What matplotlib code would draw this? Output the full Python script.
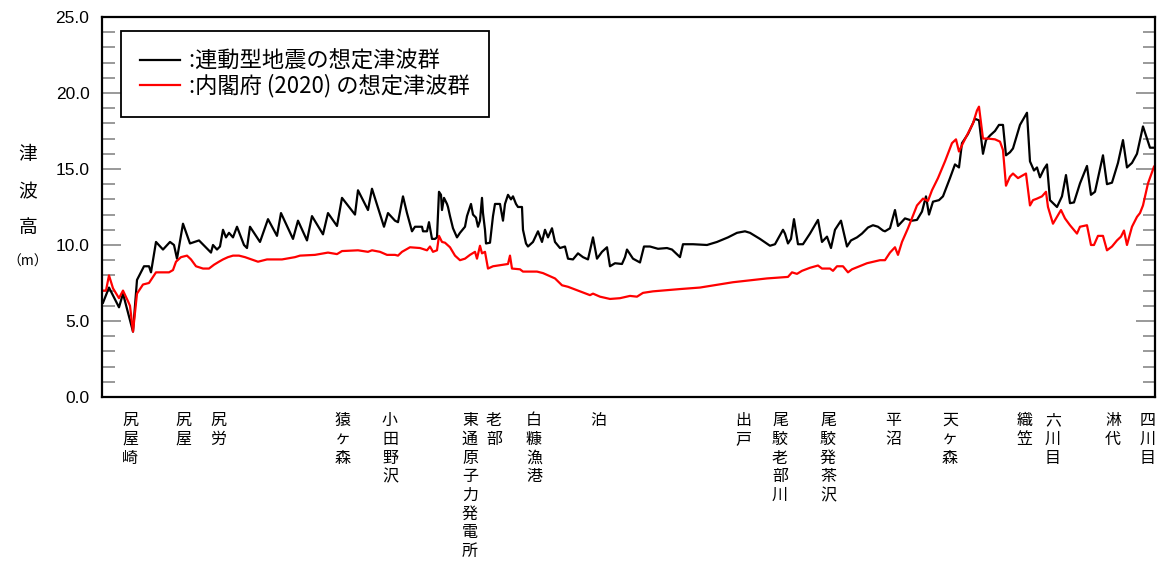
import numpy as np
import matplotlib.pyplot as plt
from matplotlib.ticker import MultipleLocator

plt.rcParams['font.family'] = ['Noto Sans CJK JP', 'DejaVu Sans']

# distance along the coast (arbitrary units) and tsunami height (m)
black_x = [1, 7, 17, 21, 27, 31, 35, 42, 47, 49, 54, 61, 68, 72, 75, 81, 88, 97, 109, 111,
           115, 118, 121, 124, 127, 131, 135, 142, 145, 148, 158, 166, 175, 179, 191, 196, 205, 210, 221, 226,
           235, 240, 253, 256, 266, 270, 282, 286, 293, 296, 301, 305, 310, 313, 320, 321, 325, 327, 330, 333,
           335, 337, 339, 340, 342, 345, 346, 348, 351, 355, 358, 363, 365, 369, 371, 374, 376, 378, 380, 381,
           383, 384, 388, 391, 393, 398, 401, 403, 406, 409, 411, 414, 416, 420, 421, 424, 426, 431, 436, 440,
           443, 446, 450, 453, 458, 463, 466, 471, 476, 481, 486, 491, 495, 500, 505, 508, 513, 520, 523, 525,
           531, 538, 542, 548, 556, 565, 570, 578, 581, 591, 605, 615, 626, 635, 643, 648, 658, 668, 673, 681,
           683, 686, 689, 692, 696, 701, 708, 716, 720, 725, 729, 733, 739, 745, 749, 755, 760, 766, 771, 776,
           781, 783, 788, 793, 796, 803, 810, 815, 820, 824, 827, 831, 837, 841, 848, 853, 857, 860, 866, 873,
           877, 881, 884, 888, 893, 897, 901, 904, 908, 911, 918, 925, 928, 932, 935, 938, 942, 945, 948, 955,
           960, 964, 968, 972, 978, 985, 989, 993, 1001, 1005, 1010, 1016, 1021, 1025, 1030, 1035, 1041, 1045, 1048, 1052]
black_h = [6.2, 7.2, 5.9, 6.8, 5.3, 4.3, 7.7, 8.6, 8.6, 8.2, 10.2, 9.7, 10.2, 10.0, 9.1, 11.4, 10.1, 10.3, 9.5, 10.0,
           9.7, 9.9, 11.0, 10.5, 10.8, 10.5, 11.2, 10.0, 9.8, 11.2, 10.2, 11.7, 10.6, 12.1, 10.4, 11.6, 10.3, 11.9, 10.7, 12.1,
           11.25, 13.1, 12.0, 13.6, 12.3, 13.7, 11.2, 12.1, 11.6, 11.5, 13.2, 12.1, 10.9, 11.2, 11.2, 10.9, 10.9, 11.5, 10.4, 10.4,
           10.5, 13.5, 13.3, 12.3, 13.1, 12.7, 12.5, 11.9, 11.1, 10.5, 10.8, 11.2, 11.9, 12.7, 12.0, 11.8, 11.2, 11.6, 13.1, 12.1,
           11.0, 10.1, 10.15, 11.9, 12.7, 12.7, 11.6, 12.7, 13.3, 13.0, 13.2, 12.7, 12.5, 12.5, 11.0, 10.1, 9.9, 10.2, 10.9, 10.2,
           11.0, 10.5, 11.1, 10.2, 9.8, 9.9, 9.1, 9.05, 9.45, 9.2, 9.05, 10.5, 9.1, 9.55, 9.85, 8.6, 8.8, 8.75, 9.2, 9.7,
           9.1, 8.85, 9.9, 9.9, 9.75, 9.8, 9.7, 9.2, 10.05, 10.05, 10.0, 10.2, 10.5, 10.8, 10.9, 10.8, 10.4, 9.95, 10.05, 11.0,
           10.75, 10.1, 10.4, 11.7, 10.05, 10.05, 10.75, 11.65, 10.2, 10.55, 9.8, 11.0, 11.6, 9.9, 10.3, 10.5, 10.75, 11.15, 11.3, 11.2,
           10.95, 10.9, 11.1, 12.3, 11.25, 11.75, 11.6, 11.65, 12.2, 13.2, 12.0, 12.85, 12.95, 13.2, 14.4, 15.3, 15.1, 16.7, 17.3, 18.3,
           18.2, 16.0, 16.9, 17.2, 17.5, 17.9, 17.9, 15.9, 16.1, 16.35, 17.9, 18.7, 15.5, 14.9, 15.1, 14.45, 15.0, 15.3, 12.95, 12.5,
           13.2, 14.6, 12.75, 12.8, 14.05, 15.2, 13.3, 13.5, 15.9, 14.0, 14.1, 15.4, 16.9, 15.1, 15.4, 16.0, 17.8, 17.0, 16.4, 16.4]

red_x = [1, 4, 7, 11, 17, 21, 26, 28, 31, 35, 41, 47, 51, 54, 61, 67, 71, 74, 79, 85,
         89, 94, 101, 107, 112, 117, 121, 126, 131, 137, 143, 156, 165, 180, 193, 198, 213, 226, 235, 240,
         256, 266, 270, 278, 285, 293, 296, 300, 308, 318, 325, 328, 331, 335, 337, 340, 343, 348, 353, 358,
         363, 368, 373, 375, 378, 380, 383, 386, 391, 401, 406, 408, 410, 418, 421, 435, 441, 448, 453, 460,
         466, 478, 488, 491, 498, 508, 518, 528, 535, 541, 551, 578, 598, 631, 665, 686, 690, 695, 700, 708,
         716, 720, 728, 731, 735, 741, 746, 750, 765, 778, 783, 788, 793, 796, 800, 806, 815, 821, 826, 830,
         836, 843, 850, 854, 857, 861, 866, 871, 875, 877, 881, 886, 893, 898, 901, 904, 908, 911, 916, 920,
         924, 928, 931, 935, 940, 944, 946, 951, 955, 959, 963, 968, 975, 978, 985, 989, 992, 996, 1001, 1005,
         1010, 1015, 1019, 1022, 1025, 1030, 1035, 1038, 1041, 1046, 1052]
red_h = [7.0, 7.0, 8.0, 7.15, 6.5, 7.0, 6.3, 6.0, 4.3, 6.8, 7.4, 7.5, 7.9, 8.2, 8.2, 8.2, 8.35, 8.9, 9.2, 9.3,
         9.05, 8.6, 8.45, 8.45, 8.7, 8.9, 9.05, 9.2, 9.3, 9.3, 9.2, 8.9, 9.05, 9.05, 9.2, 9.3, 9.35, 9.5, 9.4, 9.6,
         9.65, 9.55, 9.65, 9.55, 9.35, 9.35, 9.3, 9.55, 9.85, 9.8, 9.65, 9.9, 9.55, 9.65, 10.6, 10.2, 10.15, 9.85, 9.3, 9.0,
         9.1, 9.35, 9.55, 9.1, 9.95, 9.45, 9.55, 8.45, 8.6, 8.7, 8.75, 9.3, 8.45, 8.4, 8.25, 8.25, 8.15, 7.95, 7.8, 7.35,
         7.25, 6.95, 6.7, 6.8, 6.6, 6.45, 6.5, 6.65, 6.6, 6.85, 6.95, 7.1, 7.2, 7.55, 7.8, 7.9, 8.2, 8.1, 8.3, 8.5,
         8.65, 8.45, 8.45, 8.3, 8.6, 8.6, 8.2, 8.4, 8.8, 9.0, 9.0, 9.5, 9.85, 9.35, 10.2, 11.1, 12.6, 13.05, 12.9, 13.6,
         14.4, 15.5, 16.7, 16.95, 16.15, 16.7, 17.35, 18.0, 18.85, 19.1, 17.0, 17.0, 16.95, 16.8, 16.25, 13.9, 14.5, 14.7, 14.4, 14.55,
         14.7, 12.6, 12.95, 13.05, 13.2, 13.5, 12.5, 11.4, 11.85, 12.3, 11.75, 11.3, 10.75, 11.2, 11.3, 10.0, 10.0, 10.6, 10.6, 9.65,
         9.9, 10.3, 10.55, 10.95, 10.0, 11.2, 11.85, 12.1, 12.6, 14.05, 15.15]

places = ['尻屋崎', '尻屋', '尻労', '猿ヶ森', '小田野沢', '東通原子力発電所', '老部', '白糠漁港', '泊',
          '出戸', '尾駮老部川', '尾駮発茶沢', '平沼', '天ヶ森', '織笠', '六川目', '淋代', '四川目']
place_x = [28, 81, 116, 241, 288, 368, 392, 432, 496,
           641, 678, 726, 791, 848, 923, 951, 1011, 1046]

fig = plt.figure(figsize=(11.67, 5.66), dpi=100)
ax = fig.add_axes([0.0874, 0.2986, 0.9023, 0.6714])

ax.plot(black_x, black_h, color='black', lw=1.6, label=' :連動型地震の想定津波群')
ax.plot(red_x, red_h, color='#ff0000', lw=1.6, label=' :内閣府 (2020) の想定津波群')

ax.set_xlim(0, 1053)
ax.set_ylim(0, 25)
ax.set_xticks([])
ax.yaxis.set_minor_locator(MultipleLocator(1))
ax.set_yticks(np.arange(0, 26, 5))
ax.set_yticklabels([f'{v:.1f}' for v in np.arange(0, 26, 5)], family='Liberation Sans', fontsize=12.5)
ax.tick_params(axis='y', which='both', direction='in', left=True, right=True, color='#888888', width=1.2, pad=9)
ax.tick_params(axis='y', which='major', length=14)
ax.tick_params(axis='y', which='minor', length=9)
for s in ax.spines.values():
    s.set_linewidth(1.6)

# location names written vertically under the axis
for name, px in zip(places, place_x):
    ax.text(px, -0.04, '\n'.join(name), transform=ax.get_xaxis_transform(),
            ha='center', va='top', fontsize=11.5, linespacing=1.13)

# y label, one character per row
for ch, py in zip(['津', '波', '高'], [155, 192, 227]):
    fig.text(28 / 1167, 1 - py / 566, ch, ha='center', va='center', fontsize=13.5)
fig.text(28 / 1167, 1 - 262 / 566, '（m）', ha='center', va='center', fontsize=10)

leg = ax.legend(loc='upper left', bbox_to_anchor=(0.018, 0.963), borderaxespad=0,
                fontsize=16, handlelength=1.8, handletextpad=0.2, fancybox=False,
                edgecolor='black', framealpha=1, borderpad=0.85, labelspacing=0.05)
leg.get_frame().set_linewidth(1.3)

plt.savefig('out.png', dpi=100)
